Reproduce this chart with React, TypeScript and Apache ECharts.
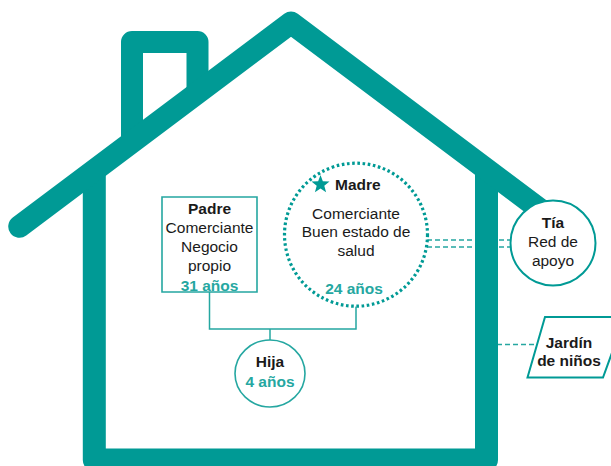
import React, { useEffect, useRef } from "react";
import * as echarts from "echarts";

// Diagram content (texts and values)
const memberNames = ["Padre", "Madre", "Hija", "Tía"];
const memberAges = [31, 24, 4];
const padreLines = ["Comerciante", "Negocio", "propio"];
const madreLines = ["Comerciante", "Buen estado de", "salud"];
const tiaLines = ["Red de", "apoyo"];
const jardinLines = ["Jardín", "de niños"];
const ageSuffix = "años";

const TEAL = "#009a95";
const TEAL_LIGHT = "#25a7a1";
const DARK = "#1a1a1a";
const FONT = "'Liberation Sans', Arial, sans-serif";

function txt(text: string, x: number, y: number, opts: any = {}) {
  return {
    type: "text",
    z: 20,
    style: {
      text,
      x,
      y,
      fill: opts.fill || DARK,
      fontSize: opts.size || 15.5,
      fontWeight: opts.bold ? "bold" : "normal",
      fontFamily: FONT,
      align: opts.align || "center",
      verticalAlign: "middle",
    },
  };
}

function starPoints(cx: number, cy: number, ro: number, ri: number) {
  const pts: number[][] = [];
  for (let i = 0; i < 10; i++) {
    const r = i % 2 === 0 ? ro : ri;
    const a = -Math.PI / 2 + (i * Math.PI) / 5;
    pts.push([cx + r * Math.cos(a), cy + r * Math.sin(a)]);
  }
  return pts;
}

export default function App() {
  const ref = useRef<HTMLDivElement>(null);
  useEffect(() => {
    if (!ref.current) return;
    const chart = echarts.init(ref.current, undefined, { renderer: "svg" });
    const graphic: any[] = [];

    // dashed relation lines (behind house)
    graphic.push({ type: "line", z: 1, shape: { x1: 427, y1: 240, x2: 511, y2: 240 }, style: { stroke: TEAL_LIGHT, lineWidth: 1.5, lineDash: [5, 3] } });
    graphic.push({ type: "line", z: 1, shape: { x1: 427, y1: 247, x2: 511, y2: 247 }, style: { stroke: TEAL_LIGHT, lineWidth: 1.5, lineDash: [5, 3] } });
    graphic.push({ type: "line", z: 1, shape: { x1: 497, y1: 344.5, x2: 537, y2: 344.5 }, style: { stroke: TEAL_LIGHT, lineWidth: 1.5, lineDash: [5, 3] } });

    // house
    graphic.push({ type: "polyline", z: 5, shape: { points: [[94.3, 170], [94.3, 460], [486.5, 460], [486.5, 170]] }, style: { stroke: TEAL, lineWidth: 23, fill: null, lineJoin: "round" } });
    graphic.push({ type: "polyline", z: 5, shape: { points: [[132, 145], [132, 42], [197.5, 42], [197.5, 93]] }, style: { stroke: TEAL, lineWidth: 22, fill: null, lineJoin: "round" } });
    graphic.push({ type: "polyline", z: 6, shape: { points: [[19.5, 226.5], [291, 22.8], [548, 215.5]] }, style: { stroke: TEAL, lineWidth: 22.5, fill: null, lineJoin: "round", lineCap: "round" } });

    // family connectors
    graphic.push({ type: "polyline", z: 8, shape: { points: [[209.5, 292], [209.5, 329], [356, 329], [356, 306.5]] }, style: { stroke: TEAL_LIGHT, lineWidth: 1.5, fill: null } });
    graphic.push({ type: "line", z: 8, shape: { x1: 270, y1: 329, x2: 270, y2: 340 }, style: { stroke: TEAL_LIGHT, lineWidth: 1.5 } });

    // Padre box
    graphic.push({ type: "rect", z: 10, shape: { x: 162, y: 197, width: 95, height: 95 }, style: { stroke: TEAL_LIGHT, lineWidth: 1.6, fill: "#fff" } });
    graphic.push(txt(memberNames[0], 209.5, 208, { bold: true }));
    padreLines.forEach((l, i) => graphic.push(txt(l, 209.5, 227.5 + i * 18.8)));
    graphic.push(txt(`${memberAges[0]} ${ageSuffix}`, 209.5, 285, { bold: true, fill: TEAL_LIGHT }));

    // Madre circle
    graphic.push({ type: "circle", z: 10, shape: { cx: 356, cy: 234.7, r: 71.5 }, style: { stroke: TEAL, lineWidth: 3.2, fill: "#fff", lineDash: [2.6, 2.6] } });
    graphic.push({ type: "polygon", z: 20, shape: { points: starPoints(320.5, 184.5, 9.5, 4) }, style: { fill: TEAL } });
    graphic.push(txt(memberNames[1], 335, 184.5, { bold: true, align: "left" }));
    madreLines.forEach((l, i) => graphic.push(txt(l, 356, 213 + i * 18.5)));
    graphic.push(txt(`${memberAges[1]} ${ageSuffix}`, 354, 288, { bold: true, fill: TEAL_LIGHT }));

    // Hija circle
    graphic.push({ type: "ellipse", z: 10, shape: { cx: 270, cy: 373.5, rx: 35, ry: 33.5 }, style: { stroke: TEAL_LIGHT, lineWidth: 1.6, fill: "#fff" } });
    graphic.push(txt(memberNames[2], 270, 361.5, { bold: true }));
    graphic.push(txt(`${memberAges[2]} ${ageSuffix}`, 270, 381, { bold: true, fill: TEAL_LIGHT }));

    // Tía circle
    graphic.push({ type: "ellipse", z: 10, shape: { cx: 553, cy: 243, rx: 42.5, ry: 42.5 }, style: { stroke: TEAL, lineWidth: 2, fill: "#fff" } });
    graphic.push(txt(memberNames[3], 553, 222, { bold: true }));
    tiaLines.forEach((l, i) => graphic.push(txt(l, 553, 241 + i * 19)));

    // Jardín parallelogram
    graphic.push({ type: "polygon", z: 10, shape: { points: [[545, 317], [625, 317], [603, 377.5], [527.5, 377.5]] }, style: { stroke: TEAL, lineWidth: 2, fill: "#fff" } });
    jardinLines.forEach((l, i) => graphic.push(txt(l, 569, 342 + i * 18.5, { bold: true })));

    chart.setOption({ animation: false, backgroundColor: "#fff", graphic });
    return () => chart.dispose();
  }, []);
  return <div ref={ref} style={{ position: "fixed", left: 0, top: 0, width: 611, height: 466 }} />;
}
